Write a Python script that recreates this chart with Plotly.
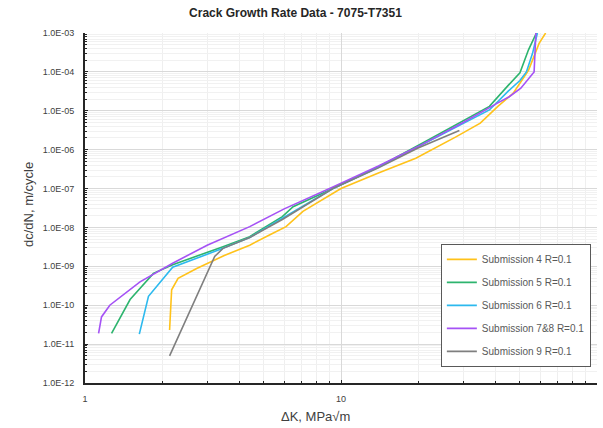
import plotly.graph_objects as go

# Stress intensity range (MPa*sqrt(m)) and crack growth rate (m/cycle) per submission
sub4_dk = [2.14, 2.18, 2.31, 2.73, 3.5, 4.4, 5.3, 6.1, 7.1, 8.5, 10, 14, 19.6, 28, 35, 41, 47, 54, 59.4, 63]
sub4_da = [2.3e-11, 2.5e-10, 4.9e-10, 8.8e-10, 1.9e-9, 3.5e-9, 6.6e-9, 1.05e-8, 2.6e-8, 5.2e-8,
           1.0e-7, 2.5e-7, 6.0e-7, 2.1e-6, 4.8e-6, 1.3e-5, 2.8e-5, 1.1e-4, 5.4e-4, 1.0e-3]

sub5_dk = [1.27, 1.50, 1.85, 2.2, 3.46, 4.4, 5.9, 6.5, 9.3, 14, 22, 30, 38, 45, 50, 54, 56, 58]
sub5_da = [1.9e-11, 1.4e-10, 6.6e-10, 1.1e-9, 3.2e-9, 5.8e-9, 1.9e-8, 3.4e-8, 1.0e-7, 3.6e-7,
           1.8e-6, 5.4e-6, 1.3e-5, 4.5e-5, 9.5e-5, 3.7e-4, 6.0e-4, 1.0e-3]

sub6_dk = [1.63, 1.77, 2.2, 3.46, 4.4, 6.0, 9.3, 14, 22, 30, 38, 45, 50, 53, 56, 58.5]
sub6_da = [1.8e-11, 1.7e-10, 9.5e-10, 2.9e-9, 5.5e-9, 1.8e-8, 1.0e-7, 3.5e-7, 1.6e-6, 4.6e-6,
           1.05e-5, 3.2e-5, 6.0e-5, 1.0e-4, 3.0e-4, 1.0e-3]

sub78_dk = [1.13, 1.16, 1.25, 1.64, 2.2, 3.0, 4.4, 6.0, 9.3, 14, 20, 30, 41, 45.4, 50.4, 56.8, 57.7]
sub78_da = [1.9e-11, 5.0e-11, 1.0e-10, 4.0e-10, 1.2e-9, 3.5e-9, 1.05e-8, 3.0e-8, 1.1e-7, 3.8e-7,
            1.2e-6, 5.0e-6, 1.6e-5, 2.3e-5, 3.8e-5, 1.0e-4, 1.0e-3]

sub9_dk = [2.14, 3.21, 3.46, 4.4, 5.9, 9.3, 14, 20, 29]
sub9_da = [5.0e-12, 1.8e-9, 2.9e-9, 5.5e-9, 1.6e-8, 1.0e-7, 3.4e-7, 1.1e-6, 3.1e-6]

series = [
    ("Submission 4 R=0.1", sub4_dk, sub4_da, "#FFC21A"),
    ("Submission 5 R=0.1", sub5_dk, sub5_da, "#2DB46E"),
    ("Submission 6 R=0.1", sub6_dk, sub6_da, "#2CB9EE"),
    ("Submission 7&8 R=0.1", sub78_dk, sub78_da, "#A552F5"),
    ("Submission 9 R=0.1", sub9_dk, sub9_da, "#7F7F7F"),
]

y_exponents = list(range(-12, -2))
y_tickvals = [10.0 ** e for e in y_exponents]
y_ticktext = ["1.0E-%02d" % (-e) for e in y_exponents]
y_minor = [k * 10.0 ** e for e in y_exponents[:-1] for k in range(2, 10)]

x_tickvals = [1, 10, 100]
x_ticktext = ["1", "10", "100"]
x_minor = [k * 10.0 ** e for e in (0, 1) for k in range(2, 10)]

fig = go.Figure()
for name, dk, da, color in series:
    fig.add_trace(go.Scatter(
        x=dk, y=da, mode="lines", name=name, legendgroup=name,
        line=dict(color=color, width=1.6),
    ))

text_color = "#404040"
axis_common = dict(
    type="log",
    showline=True, linecolor="#262626", linewidth=2,
    ticks="inside", ticklen=3, tickcolor="#262626",
    showgrid=True, gridcolor="#d9d9d9", gridwidth=1,
    zeroline=False,
    tickfont=dict(family="Liberation Sans, Arial", size=9, color=text_color),
)

fig.update_xaxes(
    **axis_common,
    range=[0, 2],
    tickmode="array", tickvals=x_tickvals, ticktext=x_ticktext,
    ticklabelstandoff=6,
    minor=dict(tickmode="array", tickvals=x_minor, ticks="inside", ticklen=2,
               tickcolor="#262626", showgrid=True, gridcolor="#efefef"),
)
fig.update_yaxes(
    **axis_common,
    range=[-12, -3],
    tickmode="array", tickvals=y_tickvals, ticktext=y_ticktext,
    ticklabelstandoff=7,
    minor=dict(tickmode="array", tickvals=y_minor, ticks="inside", ticklen=2,
               tickcolor="#262626", showgrid=True, gridcolor="#f1f1f1"),
)

fig.update_layout(
    width=603, height=428,
    margin=dict(l=85, r=6, t=33, b=45),
    paper_bgcolor="white", plot_bgcolor="white",
    font=dict(family="Liberation Sans, Arial", color=text_color),
    title=dict(
        text="<b>Crack Growth Rate Data - 7075-T7351</b>",
        x=0.49, xref="container", xanchor="center",
        y=1 - 13 / 428, yref="container", yanchor="middle",
        font=dict(size=12, color="#262626"),
    ),
    legend=dict(
        x=0.988, y=0.046, xanchor="right", yanchor="bottom",
        bgcolor="white", bordercolor="#595959", borderwidth=1,
        font=dict(size=10, color="#595959"),
        traceorder="grouped", tracegroupgap=4, itemwidth=30,
    ),
    showlegend=True,
    annotations=[
        dict(text="ΔK, MPa√m", xref="paper", yref="paper", x=(315 - 85) / 512,
             y=(383 - 416) / 350, xanchor="center", yanchor="middle",
             showarrow=False, font=dict(size=13, color=text_color)),
        dict(text="dc/dN, m/cycle", xref="paper", yref="paper", x=(28 - 85) / 512,
             y=(383 - 205) / 350, xanchor="center", yanchor="middle", textangle=-90,
             showarrow=False, font=dict(size=13, color=text_color)),
    ],
)

fig.write_html("out.html")
